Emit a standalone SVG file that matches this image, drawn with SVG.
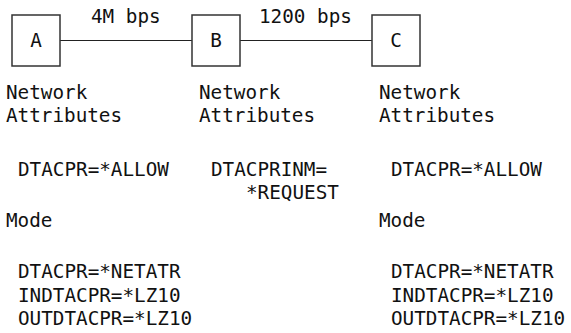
<svg xmlns="http://www.w3.org/2000/svg" width="571" height="333" viewBox="0 0 571 333">
  <style>
    .box { fill: #ffffff; stroke: #333333; stroke-width: 1.5; }
    .link { stroke: #222222; stroke-width: 1.2; fill: none; }
    text { font-family: "DejaVu Sans Mono", "Liberation Mono", monospace; font-size: 19.3px; fill: #111111; }
    .mid { text-anchor: middle; }
  </style>
  <rect width="571" height="333" fill="#ffffff"/>

  <!-- connectors between the systems -->
  <g id="connectors">
    <line class="link" x1="60" y1="40.5" x2="192" y2="40.5"/>
    <line class="link" x1="240" y1="40.5" x2="372" y2="40.5"/>
    <text x="91" y="23">4M bps</text>
    <text x="259" y="23">1200 bps</text>
  </g>

  <g id="node-a">
    <rect class="box" x="12" y="15" width="48" height="51"/>
    <text class="mid" x="36" y="47">A</text>
  </g>
  <g id="node-b">
    <rect class="box" x="192" y="15" width="48" height="51"/>
    <text class="mid" x="216" y="47">B</text>
  </g>
  <g id="node-c">
    <rect class="box" x="372" y="15" width="48" height="51"/>
    <text class="mid" x="396" y="47">C</text>
  </g>

  <!-- settings for system A -->
  <g id="settings-a">
    <text x="6" y="99">Network</text>
    <text x="6" y="122">Attributes</text>
    <text x="18" y="176">DTACPR=*ALLOW</text>
    <text x="6" y="227">Mode</text>
    <text x="18" y="278">DTACPR=*NETATR</text>
    <text x="18" y="302">INDTACPR=*LZ10</text>
    <text x="18" y="325">OUTDTACPR=*LZ10</text>
  </g>

  <!-- settings for system B -->
  <g id="settings-b">
    <text x="199" y="99">Network</text>
    <text x="199" y="122">Attributes</text>
    <text x="211" y="176">DTACPRINM=</text>
    <text x="246" y="199">*REQUEST</text>
  </g>

  <!-- settings for system C -->
  <g id="settings-c">
    <text x="379" y="99">Network</text>
    <text x="379" y="122">Attributes</text>
    <text x="391" y="176">DTACPR=*ALLOW</text>
    <text x="379" y="227">Mode</text>
    <text x="391" y="278">DTACPR=*NETATR</text>
    <text x="391" y="302">INDTACPR=*LZ10</text>
    <text x="391" y="325">OUTDTACPR=*LZ10</text>
  </g>
</svg>
